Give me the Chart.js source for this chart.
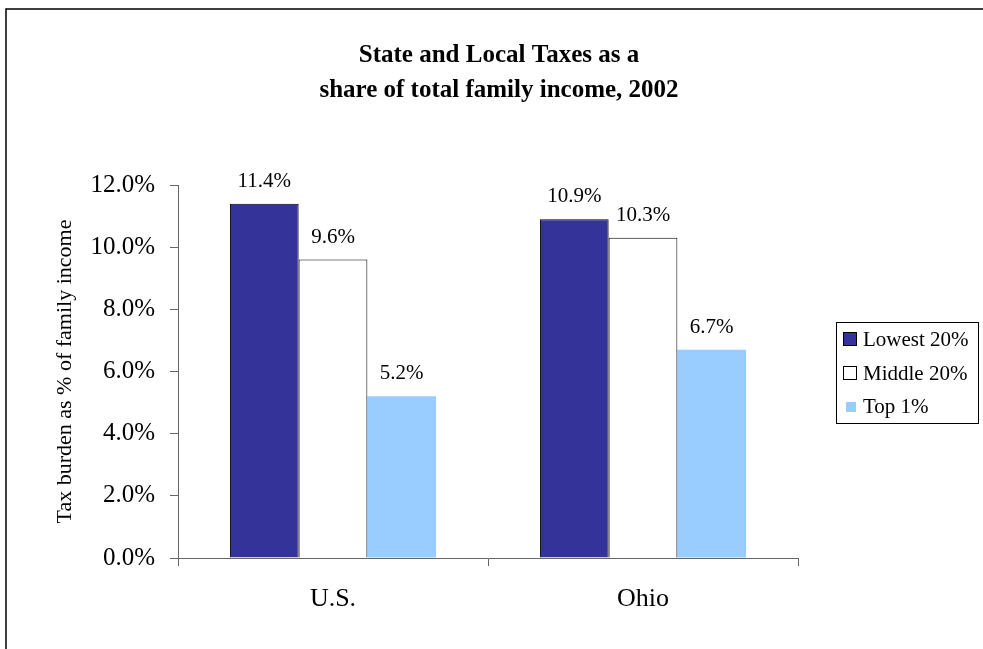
<!DOCTYPE html>
<html lang="en">
<head>
    <meta charset="UTF-8">
    <title>State and Local Taxes as a share of total family income, 2002</title>
    <script src="https://cdn.jsdelivr.net/npm/chart.js"></script>
    <style>
        html, body { margin: 0; padding: 0; background: #fff; }
        #chartBox { width: 983px; height: 649px; }
    </style>
</head>
<body>
    <div id="chartBox">
        <canvas id="taxChart" width="983" height="649"></canvas>
    </div>

    <script>
        // Du lieu bieu do
        const categories = ['U.S.', 'Ohio'];
        const seriesNames = ['Lowest 20%', 'Middle 20%', 'Top 1%'];
        const lowest20 = [11.4, 10.9];
        const middle20 = [9.6, 10.3];
        const top1 = [5.2, 6.7];
        const yMin = 0, yMax = 12, yStep = 2;

        const titleLines = ['State and Local Taxes as a', 'share of total family income, 2002'];
        const yTitle = 'Tax burden as % of family income';

        const serif = '"Liberation Serif", "Times New Roman", serif';

        // khung, tieu de, nhan gia tri va chu thich ve bang canvas
        const extras = {
            id: 'extras',
            afterDraw(chart) {
                const ctx = chart.ctx;
                ctx.save();

                // vien ngoai
                ctx.strokeStyle = '#000';
                ctx.lineWidth = 1.5;
                ctx.strokeRect(6, 9, 1200, 900);

                // tieu de
                ctx.fillStyle = '#000';
                ctx.textAlign = 'center';
                ctx.textBaseline = 'alphabetic';
                ctx.font = 'bold 25px ' + serif;
                ctx.fillText(titleLines[0], 499, 62);
                ctx.fillText(titleLines[1], 499, 97);

                // nhan gia tri tren cot
                ctx.font = '21px ' + serif;
                chart.data.datasets.forEach((ds, i) => {
                    chart.getDatasetMeta(i).data.forEach((bar, j) => {
                        ctx.fillText(ds.data[j].toFixed(1) + '%', bar.x, bar.y - 17);
                    });
                });

                // chu thich
                ctx.lineWidth = 1;
                ctx.strokeStyle = '#000';
                ctx.strokeRect(836.5, 322.5, 142, 101);
                ctx.textAlign = 'left';
                const rows = [346, 380, 413];
                chart.data.datasets.forEach((ds, i) => {
                    const y = rows[i];
                    ctx.fillStyle = ds.backgroundColor;
                    if (ds.borderWidth > 0) {
                        ctx.fillRect(843, y - 14, 14, 14);
                        ctx.strokeRect(843.5, y - 13.5, 13, 13);
                    } else {
                        ctx.fillRect(846, y - 11, 10, 10);
                    }
                    ctx.fillStyle = '#000';
                    ctx.fillText(ds.label, 863, y);
                });

                ctx.restore();
            }
        };

        const data = {
            labels: categories,
            datasets: [
                { label: seriesNames[0], data: lowest20, backgroundColor: '#333399', borderColor: '#000', borderWidth: 1 },
                { label: seriesNames[1], data: middle20, backgroundColor: '#ffffff', borderColor: '#000', borderWidth: 1 },
                { label: seriesNames[2], data: top1, backgroundColor: '#99ccff', borderColor: '#99ccff', borderWidth: 0 }
            ]
        };

        const config = {
            type: 'bar',
            data: data,
            options: {
                responsive: false,
                animation: false,
                layout: { padding: { left: 52, right: 185, top: 185, bottom: 0 } },
                datasets: {
                    bar: { categoryPercentage: 0.665, barPercentage: 1.0 }
                },
                scales: {
                    x: {
                        offset: true,
                        grid: { offset: true, drawOnChartArea: false, color: '#666', tickLength: 8 },
                        border: { color: '#666', width: 1 },
                        ticks: { color: '#000', padding: 18, font: { family: serif, size: 26 } },
                        afterFit: s => { s.height = 91; }
                    },
                    y: {
                        min: yMin,
                        max: yMax,
                        grid: { drawOnChartArea: false, color: '#666', tickLength: 8 },
                        border: { color: '#666', width: 1 },
                        ticks: {
                            stepSize: yStep,
                            color: '#000',
                            padding: 15,
                            font: { family: serif, size: 25 },
                            callback: v => v.toFixed(1) + '%'
                        },
                        title: {
                            display: true,
                            text: yTitle,
                            color: '#000',
                            padding: 0,
                            font: { family: serif, size: 22 }
                        },
                        afterFit: s => { s.width = 126; }
                    }
                },
                plugins: {
                    legend: { display: false },
                    tooltip: { enabled: false }
                }
            },
            plugins: [extras]
        };

        window.onload = function() {
            const ctx = document.getElementById('taxChart').getContext('2d');
            new Chart(ctx, config);
        };
    </script>
</body>
</html>
